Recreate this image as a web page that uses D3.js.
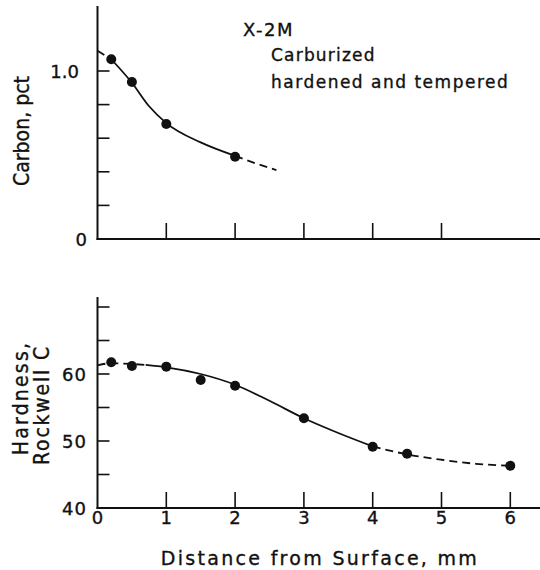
<!DOCTYPE html>
<html>
<head>
<meta charset="utf-8">
<script src="https://cdn.jsdelivr.net/npm/d3@7"></script>
<style>
  body { margin: 0; background: #fff; }
  svg text { font-family: "DejaVu Sans", sans-serif; fill: #111; stroke: #111; stroke-width: 0.35; }
  svg text.cond { font-family: "DejaVu Sans Condensed", "DejaVu Sans", sans-serif; }
</style>
</head>
<body>
<svg id="chart" width="540" height="570"></svg>
<script>
// measured points
var distPts = [0.2, 0.5, 1.0, 2.0];
var carbonPts = [1.07, 0.935, 0.685, 0.49];

var hardDist = [0.2, 0.5, 1.0, 1.5, 2.0, 3.0, 4.0, 4.5, 6.0];
var hardPts = [61.75, 61.2, 61.1, 59.1, 58.25, 53.4, 49.15, 48.1, 46.3];

// faired curves
var carbonCurveX = [0, 0.2, 0.5, 0.75, 1.0, 1.5, 2.0, 2.3, 2.6];
var carbonCurveY = [1.12, 1.07, 0.93, 0.79, 0.69, 0.575, 0.495, 0.45, 0.41];
var hardCurveX = [0, 0.2, 0.5, 0.7, 1.0, 1.5, 2.0, 2.5, 3.0, 3.5, 4.0, 4.5, 5.0, 5.5, 6.0];
var hardCurveY = [61.3, 61.6, 61.5, 61.35, 61.0, 60.0, 58.4, 56.0, 53.4, 51.2, 49.2, 48.0, 47.2, 46.6, 46.3];

var xTicksTop = [1, 2, 3, 4, 5];
var xTicksBottom = [0, 1, 2, 3, 4, 5, 6];
var carbonTicks = [0.2, 0.4, 0.6, 0.8, 1.0];
var carbonLabels = {0: "0", 1: "1.0"};
var hardTicks = [45, 50, 55, 60, 65, 70];
var hardLabels = [40, 50, 60];

var svg = d3.select("#chart");

var x = d3.scaleLinear().domain([0, 6]).range([97.5, 510.3]);
var yC = d3.scaleLinear().domain([0, 1]).range([239, 71]);
var yH = d3.scaleLinear().domain([40, 70]).range([508, 307]);

function axesFrame(y, yTop, yBot, xticks, yticks) {
  var g = svg.append("g").attr("stroke", "#111").attr("stroke-width", 2).attr("fill", "none");
  g.append("line").attr("x1", x(0)).attr("x2", x(0)).attr("y1", yTop).attr("y2", yBot + 1);
  g.append("line").attr("x1", x(0) - 1).attr("x2", 540).attr("y1", yBot).attr("y2", yBot);
  g.selectAll(".xt").data(xticks.filter(function(d){ return d > 0; })).enter().append("line")
    .attr("x1", function(d){ return x(d); }).attr("x2", function(d){ return x(d); })
    .attr("y1", yBot).attr("y2", yBot - 16).attr("stroke-width", 1.6);
  g.selectAll(".yt").data(yticks).enter().append("line")
    .attr("x1", x(0)).attr("x2", x(0) + 12)
    .attr("y1", function(d){ return y(d); }).attr("y2", function(d){ return y(d); })
    .attr("stroke-width", 1.6);
}

axesFrame(yC, 6, 239, xTicksTop, carbonTicks);
axesFrame(yH, 297, 508, xTicksBottom, hardTicks);

// tick labels
svg.append("text").attr("x", 79).attr("y", 78).attr("text-anchor", "end")
  .attr("font-size", 18).text(carbonLabels[1]);
svg.append("text").attr("x", 87).attr("y", 246).attr("text-anchor", "end")
  .attr("font-size", 18).text(carbonLabels[0]);

svg.selectAll(".hl").data(hardLabels).enter().append("text")
  .attr("x", 87).attr("y", function(d){ return yH(d) + 7; })
  .attr("text-anchor", "end").attr("font-size", 18).attr("letter-spacing", 1)
  .text(function(d){ return d; });

svg.selectAll(".xl").data(xTicksBottom).enter().append("text")
  .attr("x", function(d){ return x(d); }).attr("y", 524)
  .attr("text-anchor", "middle").attr("font-size", 18)
  .text(function(d){ return d; });

// curves
var line = d3.line().curve(d3.curveMonotoneX);
function seg(xs, ys, y, from, to, dashed) {
  var pts = [];
  xs.forEach(function(v, i){ if (v >= from && v <= to) pts.push([x(v), y(ys[i])]); });
  svg.append("path").attr("d", line(pts)).attr("fill", "none")
    .attr("stroke", "#111").attr("stroke-width", 1.8)
    .attr("stroke-dasharray", dashed ? "8,5" : null);
}
seg(carbonCurveX, carbonCurveY, yC, 0, 0.2, true);
seg(carbonCurveX, carbonCurveY, yC, 0.2, 2.0, false);
seg(carbonCurveX, carbonCurveY, yC, 2.0, 2.6, true);

seg(hardCurveX, hardCurveY, yH, 0, 0.7, true);
seg(hardCurveX, hardCurveY, yH, 0.7, 4.0, false);
seg(hardCurveX, hardCurveY, yH, 4.0, 6.0, true);

// points
svg.selectAll(".cp").data(distPts).enter().append("circle")
  .attr("cx", function(d){ return x(d); })
  .attr("cy", function(d, i){ return yC(carbonPts[i]); })
  .attr("r", 5).attr("fill", "#111");
svg.selectAll(".hp").data(hardDist).enter().append("circle")
  .attr("cx", function(d){ return x(d); })
  .attr("cy", function(d, i){ return yH(hardPts[i]); })
  .attr("r", 5).attr("fill", "#111");

// annotation
svg.append("text").attr("x", 243).attr("y", 36).attr("font-size", 18).attr("letter-spacing", 1.5).text("X-2M");
svg.append("text").attr("x", 271).attr("y", 61).attr("font-size", 17).attr("letter-spacing", 1.2).text("Carburized");
svg.append("text").attr("x", 271).attr("y", 88).attr("font-size", 17).attr("letter-spacing", 1.5).text("hardened and tempered");

// axis titles
svg.append("text").attr("class", "cond").attr("transform", "translate(29,131) rotate(-90)")
  .attr("text-anchor", "middle").attr("font-size", 21).text("Carbon, pct");
svg.append("text").attr("class", "cond").attr("transform", "translate(28,398) rotate(-90)")
  .attr("text-anchor", "middle").attr("font-size", 21).attr("letter-spacing", 2.2).text("Hardness,");
svg.append("text").attr("class", "cond").attr("transform", "translate(49,405) rotate(-90)")
  .attr("text-anchor", "middle").attr("font-size", 21).attr("letter-spacing", 1.8).text("Rockwell C");
svg.append("text").attr("x", 320).attr("y", 565)
  .attr("text-anchor", "middle").attr("font-size", 19).attr("letter-spacing", 2.3)
  .text("Distance from Surface, mm");
</script>
</body>
</html>
